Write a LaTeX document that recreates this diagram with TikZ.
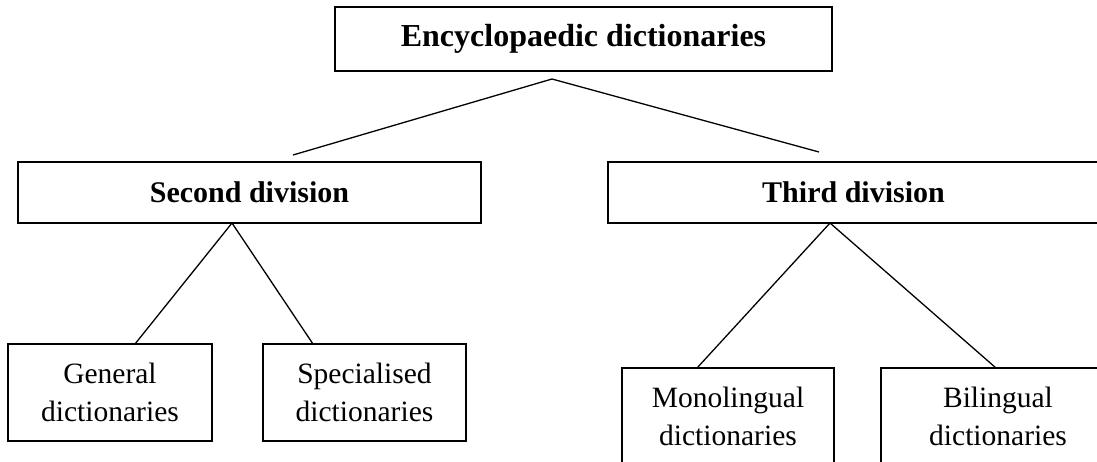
\documentclass[tikz,border=0pt]{standalone}
\usepackage{fontspec}
\setmainfont{Liberation Serif}
\usetikzlibrary{calc}
\begin{document}
\begin{tikzpicture}[x=1pt,y=-1pt,
  box/.style={draw=black,line width=1.4pt,rectangle,inner sep=0pt,outer sep=0pt},
  topbox/.style={box,font=\fontsize{32}{38}\selectfont\bfseries},
  divbox/.style={box,font=\fontsize{30}{38}\selectfont\bfseries},
  leafbox/.style={box,align=center,font=\fontsize{29.5}{38}\selectfont},
  conn/.style={draw=black,line width=1.3pt}]
\path[use as bounding box,clip] (0,0) rectangle (1097,461);
\fill[white] (0,0) rectangle (1097,461);
% boxes
\node[topbox,minimum width=497pt,minimum height=64pt] (enc) at (583.5,39) {Encyclopaedic dictionaries};
\node[divbox,minimum width=463pt,minimum height=61pt] (sec) at (249.5,192.5) {Second division};
\node[divbox,minimum width=491pt,minimum height=61pt] (thi) at (853.5,192.5) {Third division};
\node[leafbox,minimum width=204pt,minimum height=97pt] (gen) at (110,392.5) {General\\dictionaries};
\node[leafbox,minimum width=203pt,minimum height=97pt] (spe) at (364.5,392.5) {Specialised\\dictionaries};
\node[leafbox,minimum width=212pt,minimum height=97pt] (mon) at (728,416.5) {Monolingual\\dictionaries};
\node[leafbox,minimum width=234pt,minimum height=97pt] (bil) at (998,416.5) {Bilingual\\dictionaries};
% free ends of the top connectors
\coordinate (apex) at ([xshift=-31.5pt,yshift=-8pt]enc.south);
\coordinate (lend) at (293,155);
\coordinate (rend) at (819,152);
\draw[conn] (lend) -- (apex) -- (rend);
% lower connectors
\coordinate (sapex) at ([xshift=214pt]sec.south west);
\coordinate (tapex) at ([xshift=222pt]thi.south west);
\draw[conn] ([xshift=127pt]gen.north west) -- (sapex) -- ([xshift=50pt]spe.north west);
\draw[conn] ([xshift=75pt]mon.north west) -- (tapex) -- ([xshift=115pt]bil.north west);
\end{tikzpicture}
\end{document}
